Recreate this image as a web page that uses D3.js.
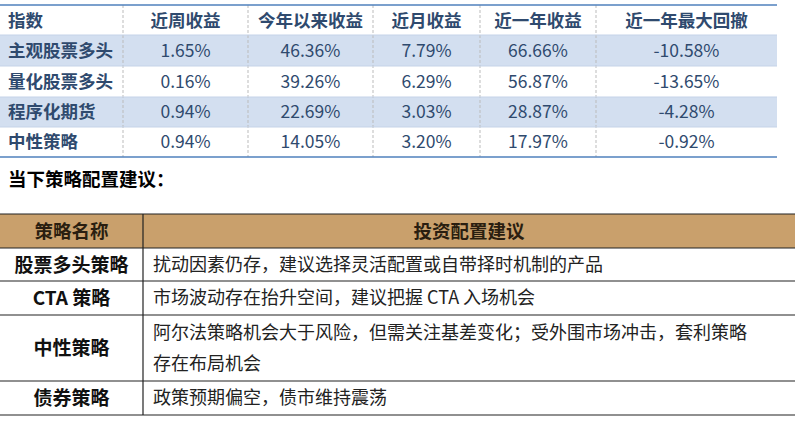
<!DOCTYPE html><html><head><meta charset="utf-8"><script src="https://cdn.jsdelivr.net/npm/d3@7"></script>
<style>body{margin:0;background:#fff}</style></head><body><svg id="c" width="796" height="425"></svg>
<script>
const headers=["指数","近周收益","今年以来收益","近月收益","近一年收益","近一年最大回撤"];
const names=["主观股票多头","量化股票多头","程序化期货","中性策略"];
const weekly=["1.65%","0.16%","0.94%","0.94%"];
const ytd=["46.36%","39.26%","22.69%","14.05%"];
const monthly=["7.79%","6.29%","3.03%","3.20%"];
const yearly=["66.66%","56.87%","28.87%","17.97%"];
const drawdown=["-10.58%","-13.65%","-4.28%","-0.92%"];
const caption="当下策略配置建议：";
const h2=["策略名称","投资配置建议"];
const strategies=["股票多头策略","CTA 策略","中性策略","债券策略"];
const advice=[["扰动因素仍存，建议选择灵活配置或自带择时机制的产品"],["市场波动存在抬升空间，建议把握 CTA 入场机会"],["阿尔法策略机会大于风险，但需关注基差变化；受外围市场冲击，套利策略","存在布局机会"],["政策预期偏空，债市维持震荡"]];
const svg=d3.select("#c");
const F="'Noto Sans CJK SC','Noto Sans',sans-serif";
const colX=[0,123,248,373,480,596,777];
const rowY=[5,35,66,97,127,157];
const cols=[names,weekly,ytd,monthly,yearly,drawdown];
[0,2].forEach(i=>svg.append("rect").attr("x",0).attr("y",rowY[i+1]).attr("width",777).attr("height",rowY[i+2]-rowY[i+1]).attr("fill","#d3dff0"));
colX.slice(1,6).forEach(x=>svg.append("line").attr("x1",x).attr("x2",x).attr("y1",rowY[0]).attr("y2",rowY[5]).attr("stroke","#bbb").attr("stroke-dasharray","3,2"));
[rowY[0],rowY[5]].forEach(y=>svg.append("line").attr("x1",0).attr("x2",777).attr("y1",y).attr("y2",y).attr("stroke","#4f81bd").attr("stroke-width",1.5));
[rowY[1],rowY[2],rowY[3],rowY[4]].forEach(y=>svg.append("line").attr("x1",0).attr("x2",777).attr("y1",y).attr("y2",y).attr("stroke","#c5d3e8").attr("stroke-width",1));
headers.forEach((h,i)=>svg.append("text").attr("x",i==0?8:(colX[i]+colX[i+1])/2).attr("y",27).attr("text-anchor",i==0?"start":"middle").attr("font-family",F).attr("font-size",17.5).attr("font-weight","bold").attr("fill","#2f4a6e").text(h));
cols.forEach((c,ci)=>c.forEach((v,ri)=>svg.append("text").attr("x",ci==0?8:(colX[ci]+colX[ci+1])/2).attr("y",(rowY[ri+1]+rowY[ri+2])/2+6).attr("text-anchor",ci==0?"start":"middle").attr("font-family",F).attr("font-size",17.5).attr("font-weight",ci==0?"bold":"normal").attr("fill","#2f4a6e").text(v)));
svg.append("text").attr("x",8).attr("y",186).attr("font-family",F).attr("font-size",18.5).attr("font-weight","bold").attr("fill","#000").text(caption);
const r2=[214,248,281,315,381,415];const cx=[0,143,795];
svg.append("rect").attr("x",0).attr("y",r2[0]).attr("width",795).attr("height",r2[1]-r2[0]).attr("fill","#c9a06c");
r2.forEach(y=>svg.append("line").attr("x1",0).attr("x2",795).attr("y1",y).attr("y2",y).attr("stroke","#222").attr("stroke-width",1.2));
svg.append("line").attr("x1",143).attr("x2",143).attr("y1",r2[0]).attr("y2",r2[5]).attr("stroke","#222").attr("stroke-width",1.2);
h2.forEach((h,i)=>svg.append("text").attr("x",(cx[i]+cx[i+1])/2).attr("y",238).attr("text-anchor","middle").attr("font-family",F).attr("font-size",18.5).attr("font-weight","bold").attr("fill","#2a1e10").text(h));
strategies.forEach((s,i)=>{const m=(r2[i+1]+r2[i+2])/2;
 svg.append("text").attr("x",71.5).attr("y",m+7).attr("text-anchor","middle").attr("font-family",F).attr("font-size",19).attr("font-weight","bold").attr("fill","#111").text(s);
 const L=advice[i];L.forEach((t,k)=>svg.append("text").attr("x",153).attr("y",m+6+(k-(L.length-1)/2)*31).attr("font-family",F).attr("font-size",18).attr("fill","#222").text(t));});
</script></body></html>
